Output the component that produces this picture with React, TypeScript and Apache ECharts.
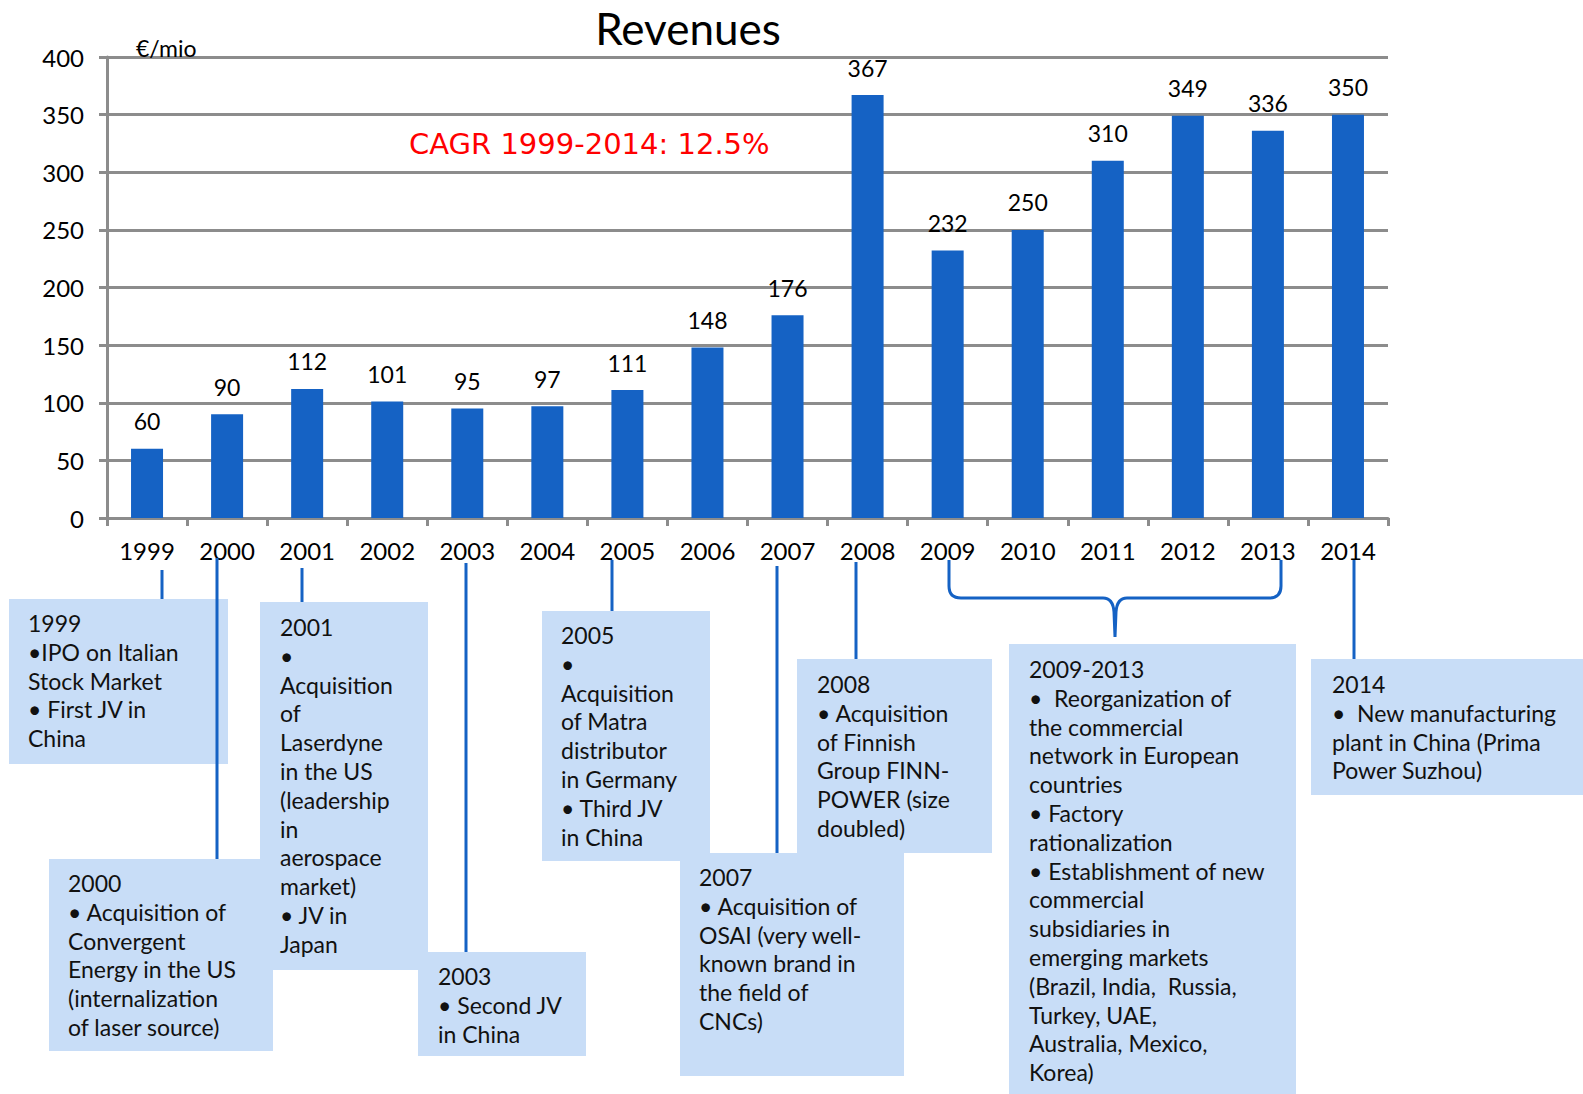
import React, { useEffect, useRef } from "react";
import * as echarts from "echarts";

// ---------- data ----------
const years = ["1999", "2000", "2001", "2002", "2003", "2004", "2005", "2006", "2007", "2008", "2009", "2010", "2011", "2012", "2013", "2014"];
const revenues = [60, 90, 112, 101, 95, 97, 111, 148, 176, 367, 232, 250, 310, 349, 336, 350];
const yMin = 0;
const yMax = 400;
const yStep = 50;

const titleText = "Revenues";
const unitText = "€/mio";
const cagrText = "CAGR 1999-2014: 12.5%";

const note1999 = ["1999", "•IPO on Italian", "Stock Market", "• First JV in", "China"];
const note2000 = ["2000", "• Acquisition of", "Convergent", "Energy in the US", "(internalization", "of laser source)"];
const note2001 = ["2001", "•", "Acquisition", "of", "Laserdyne", "in the US", "(leadership", "in", "aerospace", "market)", "• JV in", "Japan"];
const note2003 = ["2003", "• Second JV", "in China"];
const note2005 = ["2005", "•", "Acquisition", "of Matra", "distributor", "in Germany", "• Third JV", "in China"];
const note2007 = ["2007", "• Acquisition of", "OSAI (very well-", "known brand in", "the field of", "CNCs)"];
const note2008 = ["2008", "• Acquisition", "of Finnish", "Group FINN-", "POWER (size", "doubled)"];
const note2009 = ["2009-2013", "•  Reorganization of", "the commercial", "network in European", "countries", "• Factory", "rationalization", "• Establishment of new", "commercial", "subsidiaries in", "emerging markets", "(Brazil, India,  Russia,", "Turkey, UAE,", "Australia, Mexico,", "Korea)"];
const note2014 = ["2014", "•  New manufacturing", "plant in China (Prima", "Power Suzhou)"];

// ---------- layout (pixels) ----------
const LINE_H = 28.8;
const boxes = [
  { lines: note1999, x: 9, y: 599, w: 219, h: 165, tx: 28, ty: 623 },
  { lines: note2001, x: 260, y: 602, w: 168, h: 368, tx: 280, ty: 627 },
  { lines: note2005, x: 542, y: 611, w: 168, h: 250, tx: 561, ty: 635 },
  { lines: note2000, x: 49, y: 859, w: 224, h: 192, tx: 68, ty: 883 },
  { lines: note2003, x: 418, y: 952, w: 168, h: 104, tx: 438, ty: 976 },
  { lines: note2008, x: 797, y: 659, w: 195, h: 194, tx: 817, ty: 684 },
  { lines: note2007, x: 680, y: 853, w: 224, h: 223, tx: 699, ty: 877 },
  { lines: note2009, x: 1009, y: 644, w: 287, h: 450, tx: 1029, ty: 669 },
  { lines: note2014, x: 1311, y: 659, w: 272, h: 136, tx: 1332, ty: 684 },
];
const connectors = [
  { x: 162, y1: 570, y2: 599 },
  { x: 217, y1: 558, y2: 859 },
  { x: 302, y1: 568, y2: 602 },
  { x: 466, y1: 563, y2: 952 },
  { x: 612, y1: 560, y2: 611 },
  { x: 777, y1: 566, y2: 853 },
  { x: 856, y1: 562, y2: 659 },
  { x: 1354, y1: 560, y2: 659 },
];
const braceD =
  "M949,560 L949,586 Q949,598 961,598 L1103,598 Q1113,598 1114,612 L1115,637 L1116,612 Q1117,598 1127,598 L1269,598 Q1281,598 1281,586 L1281,560";

const BAR_COLOR = "#1562c4";
const BOX_COLOR = "#c8ddf7";
const GRID_COLOR = "#8c8c8c";
const FONT = "Lato";

let braceRegistered = false;

export default function App() {
  const ref = useRef<HTMLDivElement>(null);

  useEffect(() => {
    if (!ref.current) return;
    if (!braceRegistered) {
      echarts.graphic.registerShape("brace", echarts.graphic.extendPath(braceD, {}));
      braceRegistered = true;
    }
    const chart = echarts.init(ref.current, undefined, { renderer: "svg" });

    const graphics: any[] = [];
    boxes.forEach((b) => {
      graphics.push({
        type: "rect",
        z: 10,
        shape: { x: b.x, y: b.y, width: b.w, height: b.h },
        style: { fill: BOX_COLOR },
        silent: true,
      });
    });
    connectors.forEach((c) => {
      graphics.push({
        type: "line",
        z: 20,
        shape: { x1: c.x, y1: c.y1, x2: c.x, y2: c.y2 },
        style: { stroke: BAR_COLOR, lineWidth: 3 },
        silent: true,
      });
    });
    graphics.push({
      type: "brace",
      z: 20,
      x: 0,
      y: 0,
      scaleX: 1,
      scaleY: 1,
      style: { fill: "none", stroke: BAR_COLOR, lineWidth: 3 },
      silent: true,
    });
    boxes.forEach((b) => {
      graphics.push({
        type: "text",
        z: 30,
        x: b.tx,
        y: b.ty - LINE_H / 2,
        style: {
          text: b.lines.join("\n"),
          fontFamily: FONT,
          fontSize: 23,
          lineHeight: LINE_H,
          fill: "#111",
          align: "left",
          textAlign: "left",
          verticalAlign: "top",
          textVerticalAlign: "top",
        },
        silent: true,
      });
    });
    graphics.push({
      type: "text",
      z: 30,
      x: 688,
      y: 28,
      style: {
        text: titleText,
        fontFamily: FONT,
        fontSize: 44,
        fill: "#000",
        align: "center",
        textAlign: "center",
        verticalAlign: "middle",
        textVerticalAlign: "middle",
      },
    });
    graphics.push({
      type: "text",
      z: 30,
      x: 136,
      y: 48,
      style: {
        text: unitText,
        fontFamily: FONT,
        fontSize: 23,
        fill: "#000",
        align: "left",
        textAlign: "left",
        verticalAlign: "middle",
        textVerticalAlign: "middle",
      },
    });
    graphics.push({
      type: "text",
      z: 30,
      x: 409,
      y: 144,
      style: {
        text: cagrText,
        fontFamily: "DejaVu Sans",
        fontSize: 29,
        fill: "#ff0000",
        align: "left",
        textAlign: "left",
        verticalAlign: "middle",
        textVerticalAlign: "middle",
      },
    });

    chart.setOption({
      animation: false,
      backgroundColor: "#ffffff",
      grid: { left: 107, right: 195, top: 57, bottom: 576, containLabel: false },
      xAxis: {
        type: "category",
        data: years,
        boundaryGap: true,
        axisLine: { show: true, lineStyle: { color: GRID_COLOR, width: 3 } },
        axisTick: { show: true, length: 8, lineStyle: { color: GRID_COLOR, width: 3 } },
        axisLabel: { color: "#000", fontFamily: FONT, fontSize: 24, margin: 20, interval: 0 },
        splitLine: { show: false },
      },
      yAxis: {
        type: "value",
        min: yMin,
        max: yMax,
        interval: yStep,
        axisLine: { show: true, lineStyle: { color: GRID_COLOR, width: 3 } },
        axisTick: { show: true, length: 8, lineStyle: { color: GRID_COLOR, width: 3 } },
        axisLabel: { color: "#000", fontFamily: FONT, fontSize: 24, margin: 23 },
        splitLine: { show: true, lineStyle: { color: GRID_COLOR, width: 3 } },
      },
      series: [
        {
          type: "bar",
          data: revenues,
          barWidth: 32,
          itemStyle: { color: BAR_COLOR },
          label: {
            show: true,
            position: "top",
            distance: 16,
            color: "#000",
            fontFamily: FONT,
            fontSize: 23,
          },
        },
      ],
      graphic: { elements: graphics },
    });

    return () => {
      chart.dispose();
    };
  }, []);

  return (
    <div
      ref={ref}
      style={{ position: "absolute", left: 0, top: 0, width: 1583, height: 1094, background: "#fff" }}
    />
  );
}
